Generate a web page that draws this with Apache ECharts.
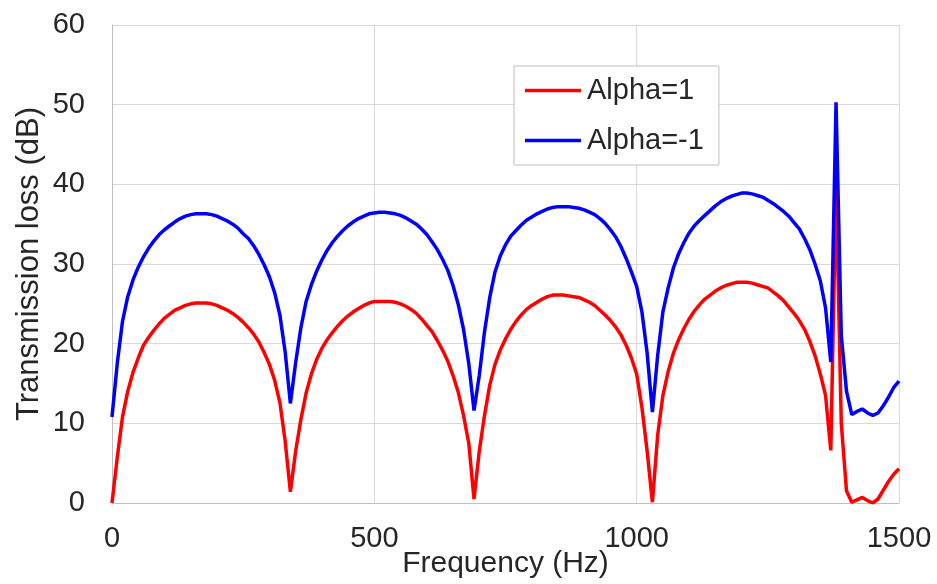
<!DOCTYPE html>
<html>
<head>
<meta charset="utf-8">
<title>Transmission loss</title>
<script src="https://cdn.jsdelivr.net/npm/echarts@6/dist/echarts.min.js"></script>
<style>
  html, body { margin: 0; padding: 0; background: #fff; }
  #chart { width: 937px; height: 584px; }
</style>
</head>
<body>
<div id="chart"></div>
<script>
const freqHz = [
  0, 10, 20, 30, 40, 50, 60, 70, 80, 90,
  100, 110, 120, 130, 140, 150, 160, 170, 180, 190,
  200, 210, 220, 230, 240, 250, 260, 270, 280, 290,
  300, 310, 320, 330, 340, 350, 360, 370, 380, 390,
  400, 410, 420, 430, 440, 450, 460, 470, 480, 490,
  500, 510, 520, 530, 540, 550, 560, 570, 580, 590,
  600, 610, 620, 630, 640, 650, 660, 670, 680, 690,
  700, 710, 720, 730, 740, 750, 760, 770, 780, 790,
  800, 810, 820, 830, 840, 850, 860, 870, 880, 890,
  900, 910, 920, 930, 940, 950, 960, 970, 980, 990,
  1000, 1010, 1020, 1030, 1040, 1050, 1060, 1070, 1080, 1090,
  1100, 1110, 1120, 1130, 1140, 1150, 1160, 1170, 1180, 1190,
  1200, 1210, 1220, 1230, 1240, 1250, 1260, 1270, 1280, 1290,
  1300, 1310, 1320, 1330, 1340, 1350, 1360, 1370, 1380, 1390,
  1400, 1410, 1420, 1430, 1440, 1450, 1460, 1470, 1480, 1490,
  1500
];

// Alpha = 1
const tlAlphaPos = [
  0, 5.7, 10.8, 14.0, 16.4, 18.2, 19.8, 20.8, 21.7, 22.5,
  23.2, 23.7, 24.2, 24.5, 24.8, 25.0, 25.1, 25.1, 25.1, 25.0,
  24.8, 24.5, 24.2, 23.8, 23.3, 22.7, 22.0, 21.2, 20.2, 18.9,
  17.4, 15.4, 12.6, 7.8, 1.4, 6.5, 10.5, 13.8, 16.2, 18.0,
  19.4, 20.5, 21.4, 22.2, 22.9, 23.5, 24.0, 24.4, 24.8, 25.1,
  25.3, 25.3, 25.3, 25.3, 25.2, 25.0, 24.7, 24.3, 23.8, 23.1,
  22.3, 21.5, 20.4, 19.2, 17.8, 16.0, 13.9, 11.0, 7.5, 0.5,
  6.5, 11.0, 14.8, 17.4, 19.2, 20.6, 21.8, 22.8, 23.6, 24.3,
  24.8, 25.2, 25.6, 25.9, 26.1, 26.1, 26.1, 26.0, 25.9, 25.8,
  25.5, 25.2, 24.8, 24.2, 23.6, 22.9, 22.1, 21.1, 19.8, 18.2,
  16.2, 12.0, 6.5, 0.1, 8.5, 13.5, 16.5, 18.8, 20.5, 21.9,
  23.1, 24.1, 24.9, 25.6, 26.1, 26.6, 27.0, 27.3, 27.5, 27.7,
  27.7, 27.7, 27.6, 27.4, 27.2, 27.0, 26.5, 26.0, 25.4, 24.6,
  23.8, 22.9, 21.8, 20.3, 18.5, 16.2, 13.5, 6.6, 40.0, 10.0,
  1.5, 0.1, 0.4, 0.7, 0.3, 0.0, 0.5, 1.6, 2.7, 3.6,
  4.3
];

// Alpha = -1
const tlAlphaNeg = [
  10.8, 17.5, 22.8, 25.9, 28.0, 29.6, 30.9, 32.0, 32.9, 33.7,
  34.3, 34.8, 35.3, 35.7, 36.0, 36.2, 36.3, 36.3, 36.3, 36.2,
  36.0, 35.7, 35.4, 35.0, 34.5, 33.8, 33.2, 32.3, 31.2, 29.9,
  28.4, 26.4, 23.6, 19.0, 12.5, 17.6, 22.0, 25.3, 27.4, 29.1,
  30.5, 31.7, 32.7, 33.5, 34.2, 34.8, 35.3, 35.7, 36.0, 36.3,
  36.4, 36.5, 36.5, 36.4, 36.3, 36.1, 35.8, 35.4, 35.0, 34.4,
  33.7, 32.8, 31.8, 30.6, 29.2, 27.3, 24.9, 21.8, 17.5, 11.6,
  16.0, 21.5, 25.8, 29.0, 31.0, 32.4, 33.5, 34.2, 34.9, 35.5,
  35.9, 36.3, 36.6, 36.9, 37.1, 37.2, 37.2, 37.2, 37.1, 37.0,
  36.8, 36.5, 36.2, 35.7, 35.1, 34.3, 33.4, 32.2, 30.7, 29.0,
  27.2, 24.0, 18.8, 11.4, 18.5, 24.0, 27.0, 29.5, 31.3, 32.7,
  33.9, 34.8, 35.5, 36.1, 36.7, 37.3, 37.8, 38.2, 38.5, 38.7,
  38.9, 38.9, 38.8, 38.6, 38.4, 38.0, 37.6, 37.1, 36.6, 36.0,
  35.2, 34.4, 33.2, 31.8, 30.0, 27.9, 24.5, 17.7, 50.3, 21.0,
  14.0, 11.1, 11.5, 11.8, 11.3, 11.0, 11.3, 12.2, 13.3, 14.5,
  15.3
];

const seriesNames = ["Alpha=1", "Alpha=-1"];
const seriesColors = ["#ff0000", "#0000ff"];

const FONT = "'Liberation Sans', Arial, sans-serif";
const TEXT_COLOR = "#262626";
const GRID_COLOR = "#d9d9d9";

function pairUp(xs, ys) {
  return xs.map((x, i) => [x, ys[i]]);
}

const chart = echarts.init(document.getElementById("chart"), null, { renderer: "canvas" });

chart.setOption({
  backgroundColor: "#ffffff",
  animation: false,
  textStyle: { fontFamily: FONT },
  grid: {
    left: 112,
    right: 38,
    top: 25,
    bottom: 81,
    containLabel: false,
    outerBoundsMode: "none"
  },
  legend: {
    orient: "vertical",
    left: 514,
    top: 66,
    padding: [10, 15, 10, 11],
    itemGap: 21,
    itemWidth: 56,
    itemHeight: 14,
    backgroundColor: "#ffffff",
    borderColor: "#bfbfbf",
    borderWidth: 1,
    textStyle: { fontFamily: FONT, fontSize: 29, color: TEXT_COLOR, padding: [0, 0, 0, 1] },
    data: seriesNames.map((name) => ({ name, icon: "path://M0,0L56,0L56,3.5L0,3.5Z" }))
  },
  xAxis: {
    type: "value",
    min: 0,
    max: 1500,
    interval: 500,
    name: "Frequency (Hz)",
    nameLocation: "middle",
    nameGap: 46,
    nameMoveOverlap: false,
    nameTextStyle: { fontFamily: FONT, fontSize: 30, color: TEXT_COLOR },
    axisLine: { show: true, lineStyle: { color: "#bfbfbf", width: 1 } },
    axisTick: { show: false },
    axisLabel: {
      fontFamily: FONT,
      fontSize: 29,
      color: TEXT_COLOR,
      margin: 21,
      formatter: (v) => String(v)
    },
    splitLine: { show: true, lineStyle: { color: GRID_COLOR, width: 1 } }
  },
  yAxis: {
    type: "value",
    min: 0,
    max: 60,
    interval: 10,
    name: "Transmission loss (dB)",
    nameLocation: "middle",
    nameRotate: 90,
    nameGap: 67,
    nameMoveOverlap: false,
    nameTextStyle: { fontFamily: FONT, fontSize: 31, color: TEXT_COLOR },
    axisLine: { show: true, lineStyle: { color: "#bfbfbf", width: 1 } },
    axisTick: { show: false },
    axisLabel: { fontFamily: FONT, fontSize: 29, color: TEXT_COLOR, margin: 27 },
    splitLine: { show: true, lineStyle: { color: GRID_COLOR, width: 1 } }
  },
  series: [
    {
      name: seriesNames[0],
      type: "line",
      data: pairUp(freqHz, tlAlphaPos),
      symbol: "none",
      color: seriesColors[0],
      lineStyle: { color: seriesColors[0], width: 3.5 },
      z: 2
    },
    {
      name: seriesNames[1],
      type: "line",
      data: pairUp(freqHz, tlAlphaNeg),
      symbol: "none",
      color: seriesColors[1],
      lineStyle: { color: seriesColors[1], width: 3.5 },
      z: 3
    }
  ]
});
</script>
</body>
</html>
